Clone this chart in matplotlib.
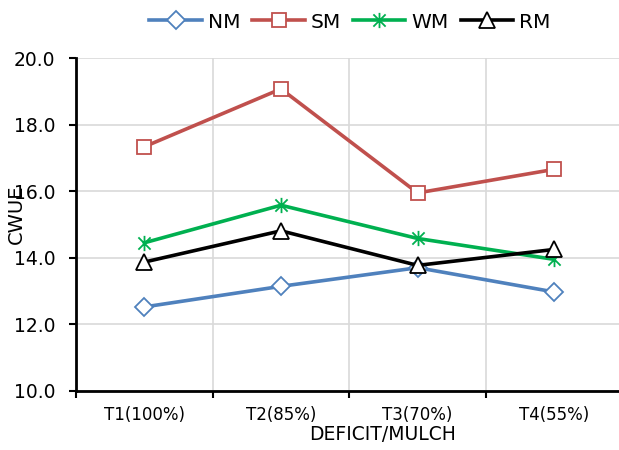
import matplotlib
matplotlib.use("Agg")
import matplotlib.pyplot as plt
from matplotlib.path import Path
from matplotlib.ticker import FixedLocator, NullFormatter, FixedFormatter

# Treatment levels and crop water use efficiency per mulch type
treatments = ["T1(100%)", "T2(85%)", "T3(70%)", "T4(55%)"]
nm = [12.52, 13.14, 13.70, 12.97]
sm = [17.34, 19.08, 15.95, 16.66]
wm = [14.45, 15.58, 14.58, 13.95]
rm = [13.87, 14.81, 13.77, 14.25]

series = [
    ("NM", nm, "#4F81BD", "D", 9),
    ("SM", sm, "#C0504D", "s", 9.5),
    ("WM", wm, "#00B050", None, 11),
    ("RM", rm, "#000000", "^", 11),
]

# Asterisk marker: an X with a vertical stroke through it
asterisk = Path(
    [(-1, -1), (1, 1), (-1, 1), (1, -1), (0, -1.25), (0, 1.25)],
    [Path.MOVETO, Path.LINETO, Path.MOVETO, Path.LINETO, Path.MOVETO, Path.LINETO],
)

plt.rcParams["font.family"] = ["DejaVu Sans"]

fig = plt.figure(figsize=(6.19, 4.50), dpi=100)
ax = fig.add_axes([0.1228, 0.1318, 0.883, 0.7386])

x = list(range(1, len(treatments) + 1))
handles = []
for name, vals, color, mk, ms in series:
    if mk is None:
        line, = ax.plot(x, vals, color=color, lw=2.6, marker=asterisk,
                        markersize=ms, markeredgecolor=color, markeredgewidth=1.3,
                        label=name, zorder=3, clip_on=False)
    else:
        line, = ax.plot(x, vals, color=color, lw=2.6, marker=mk,
                        markersize=ms, markerfacecolor="white",
                        markeredgecolor=color, markeredgewidth=1.3,
                        label=name, zorder=3, clip_on=False)
    handles.append(line)

ax.set_xlim(0.5, len(treatments) + 0.5)
ax.set_ylim(10, 20)

# Category boundaries carry the ticks and grid; labels sit at centres
ax.xaxis.set_major_locator(FixedLocator([i + 0.5 for i in range(0, len(treatments) + 1)]))
ax.xaxis.set_major_formatter(NullFormatter())
ax.xaxis.set_minor_locator(FixedLocator(x))
ax.xaxis.set_minor_formatter(FixedFormatter(treatments))
ax.tick_params(axis="x", which="major", direction="out", length=5, width=1.5, color="black")
ax.tick_params(axis="x", which="minor", length=0, pad=11, labelsize=12, labelcolor="#000000")

ax.set_yticks([10, 12, 14, 16, 18, 20])
ax.set_yticklabels([f"{v:.1f}" for v in [10, 12, 14, 16, 18, 20]])
ax.tick_params(axis="y", direction="out", length=5, width=1.5, color="black",
               labelsize=13.5, pad=10)

ax.grid(True, which="major", color="#D9D9D9", lw=1.2)
ax.set_axisbelow(True)

for side in ("top", "right"):
    ax.spines[side].set_visible(False)
for side in ("left", "bottom"):
    ax.spines[side].set_color("black")
    ax.spines[side].set_linewidth(2.0)
    ax.spines[side].set_zorder(4)

fig.text(383 / 619, 1 - 434 / 450, "DEFICIT/MULCH", ha="center", va="center", fontsize=13.5)
fig.text(16.7 / 619, 1 - 214 / 450, "CWUE", ha="center", va="center", rotation=90, fontsize=14)

fig.legend(handles=handles, loc="center", bbox_to_anchor=(350 / 619, 1 - 22 / 450),
           ncol=4, frameon=False, fontsize=14.5, handlelength=2.6, handletextpad=0.3,
           columnspacing=0.6, borderaxespad=0)

fig.savefig("out.png", dpi=100)
